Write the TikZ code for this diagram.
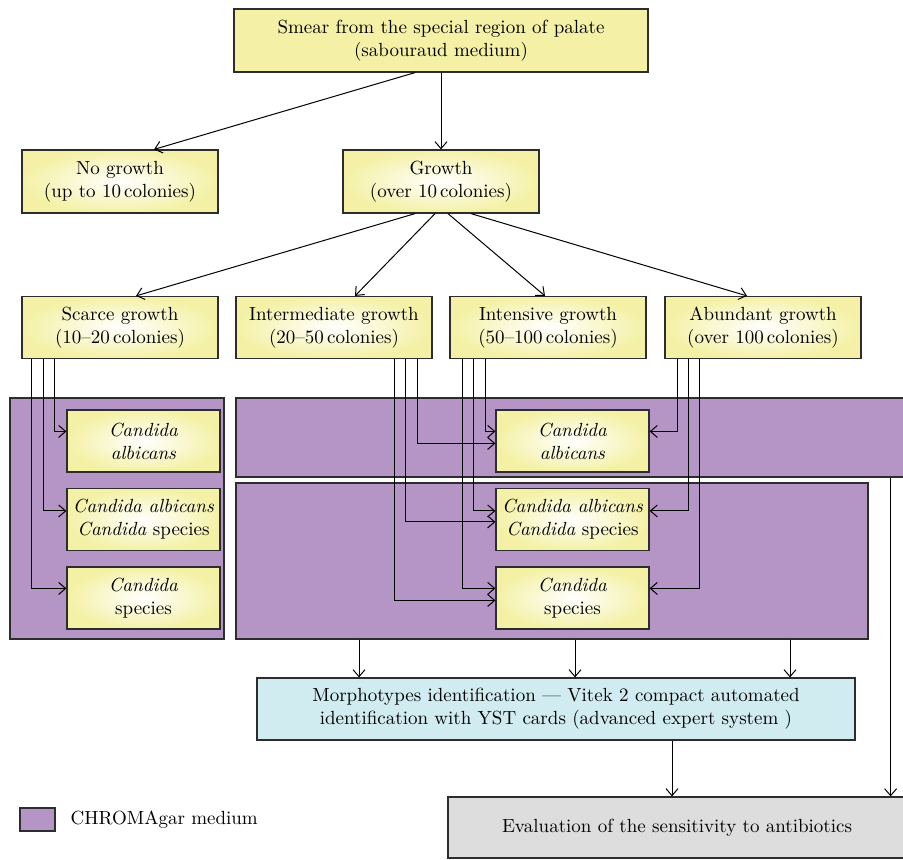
\documentclass[tikz,border=0pt]{standalone}
\usetikzlibrary{arrows.meta, positioning, calc}
\definecolor{chromapurple}{RGB}{181,148,198}
\definecolor{boxyellow}{RGB}{244,241,166}
\definecolor{morphcyan}{RGB}{208,236,240}
\definecolor{evalgray}{RGB}{221,221,221}
\definecolor{edgegray}{RGB}{45,45,45}
\tikzset{
  boxbase/.style={draw=edgegray, line width=0.6pt, align=center, inner sep=1pt},
  growthbox/.style={boxbase, inner color=white, outer color=boxyellow, minimum width=98pt, minimum height=31pt},
  candidabox/.style={growthbox, minimum width=76.5pt, minimum height=31pt},
  panel/.style={draw=edgegray, line width=0.6pt, fill=chromapurple},
  link/.style={-{Straight Barb[length=3.5pt,width=6pt]}, line width=0.5pt}
}

\begin{document}
\begin{tikzpicture}[x=0.5pt, y=-0.5pt, font=\fontsize{9.5}{11.5}\selectfont]
    \useasboundingbox (0,0) rectangle (903,859);

    % CHROMAgar panels
    \node[panel, minimum width=107pt, minimum height=120.5pt] (leftpanel) at (117,518.5) {};
    \node[panel, minimum width=335pt, minimum height=39.5pt] (toppanel) at (571,437.5) {};
    \node[panel, minimum width=316pt, minimum height=78pt] (lowpanel) at (552,561) {};

    % Top part
    \node[boxbase, fill=boxyellow, minimum width=207pt, minimum height=31.5pt] (smear) at (441,40.5)
        {Smear from the special region of palate\\(sabouraud medium)};
    \node[growthbox, minimum height=31.5pt] (nogrowth) at (120,181.5) {No growth\\(up to 10\,colonies)};
    \node[growthbox, minimum height=31.5pt] (growth) at (441,181.5) {Growth\\(over 10\,colonies)};

    % Growth levels
    \node[growthbox] (scarce) at (120,327.5) {Scarce growth\\(10--20\,colonies)};
    \node[growthbox] (interm) at (334,327.5) {Intermediate growth\\(20--50\,colonies)};
    \node[growthbox] (intens) at (548,327.5) {Intensive growth\\(50--100\,colonies)};
    \node[growthbox] (abund) at (763,327.5) {Abundant growth\\(over 100\,colonies)};

    % Candida boxes
    \node[candidabox] (leftA) at (143.5,441) {\textit{Candida}\\\textit{albicans}};
    \node[candidabox] (leftAB) at (143.5,519.5) {\textit{Candida albicans}\\\textit{Candida} species};
    \node[candidabox] (leftS) at (143.5,598) {\textit{Candida}\\species};
    \node[candidabox] (midA) at (572.5,441) {\textit{Candida}\\\textit{albicans}};
    \node[candidabox] (midAB) at (572.5,519.5) {\textit{Candida albicans}\\\textit{Candida} species};
    \node[candidabox] (midS) at (572.5,598) {\textit{Candida}\\species};

    % Bottom part
    \node[boxbase, fill=morphcyan, minimum width=299pt, minimum height=31pt] (morph) at (556,709)
        {Morphotypes identification --- Vitek 2 compact automated\\identification with YST cards (advanced expert system )};
    \node[boxbase, fill=evalgray, minimum width=229pt, minimum height=30.5pt] (eval) at (677,827.5)
        {Evaluation of the sensitivity to antibiotics};

    % Legend
    \node[panel, minimum width=17.5pt, minimum height=11.5pt] (legendbox) at (37.5,819.5) {};
    \node[right=4pt of legendbox] (legendtext) {CHROMAgar medium};

    % From the smear
    \draw[link] ($(smear.south)+(-26,0)$) -- ($(nogrowth.north)+(34,0)$);
    \draw[link] (smear.south) -- (growth.north);

    % Growth splits into four
    \draw[link] ($(growth.south)+(-26,0)$) -- ($(scarce.north)+(16,0)$);
    \draw[link] ($(growth.south)+(-6,0)$) -- ($(interm.north)+(21,0)$);
    \draw[link] ($(growth.south)+(7,0)$) -- ($(intens.north)+(-3,0)$);
    \draw[link] ($(growth.south)+(30,0)$) -- ($(abund.north)+(-16,0)$);

    % Scarce growth
    \draw[link] ($(scarce.south west)+(33,0)$) |- ($(leftA.north west)+(0,22)$);
    \draw[link] ($(scarce.south west)+(22,0)$) |- ($(leftAB.north west)+(0,23)$);
    \draw[link] ($(scarce.south west)+(10,0)$) |- ($(leftS.north west)+(0,22)$);

    % Intermediate growth
    \draw[link] ($(interm.south east)+(-15,0)$) |- ($(midA.north west)+(0,34)$);
    \draw[link] ($(interm.south east)+(-27,0)$) |- ($(midAB.north west)+(0,34)$);
    \draw[link] ($(interm.south east)+(-38,0)$) |- ($(midS.north west)+(0,34)$);

    % Intensive growth
    \draw[link] ($(intens.south west)+(36,0)$) |- ($(midA.north west)+(0,22)$);
    \draw[link] ($(intens.south west)+(24,0)$) |- ($(midAB.north west)+(0,23)$);
    \draw[link] ($(intens.south west)+(13,0)$) |- ($(midS.north west)+(0,22)$);

    % Abundant growth
    \draw[link] ($(abund.south west)+(13,0)$) |- ($(midA.north east)+(0,22)$);
    \draw[link] ($(abund.south west)+(24,0)$) |- ($(midAB.north east)+(0,23)$);
    \draw[link] ($(abund.south west)+(35,0)$) |- ($(midS.north east)+(0,22)$);

    % To identification and evaluation
    \foreach \dx in {-193, 23, 238}
        \draw[link] ($(lowpanel.south)+(\dx,0)$) coordinate (ptop) -- (ptop |- morph.north);
    \draw[link] ($(morph.south)+(116,0)$) coordinate (mtop) -- (mtop |- eval.north);
    \draw[link] ($(toppanel.south east)+(-16,0)$) coordinate (rtop) -- (rtop |- eval.north);
\end{tikzpicture}
\end{document}
